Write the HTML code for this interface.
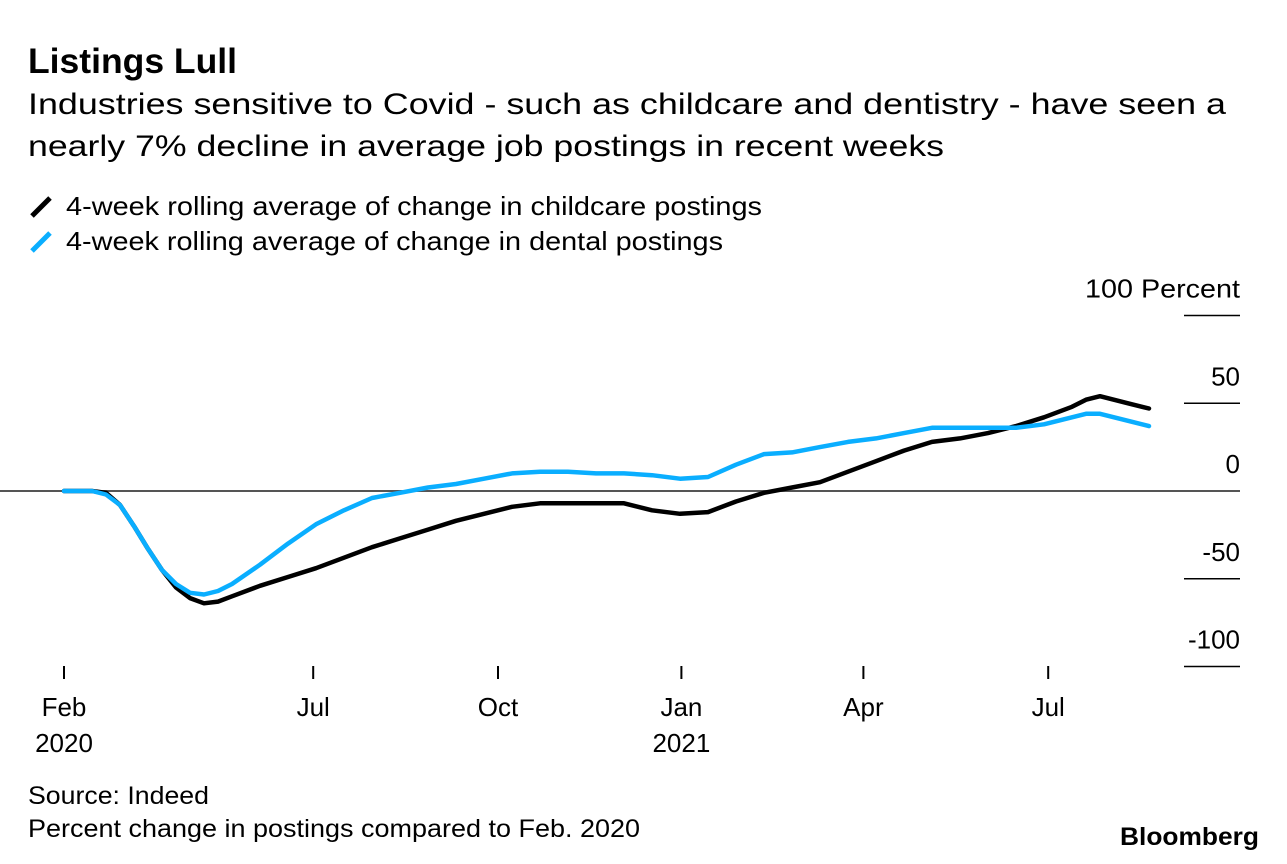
<!DOCTYPE html>
<html><head><meta charset="utf-8"><style>
html,body{margin:0;padding:0;background:#fff;}
svg{display:block;font-family:"Liberation Sans",Arial,sans-serif;}
</style></head><body>
<svg id="chart" width="1287" height="864" viewBox="0 0 1287 864">
<text x="28" y="73" font-size="35" font-weight="bold" textLength="209" lengthAdjust="spacingAndGlyphs">Listings Lull</text>
<text x="28" y="114" font-size="30" textLength="1198" lengthAdjust="spacingAndGlyphs">Industries sensitive to Covid - such as childcare and dentistry - have seen a</text>
<text x="28" y="156" font-size="30" textLength="916" lengthAdjust="spacingAndGlyphs">nearly 7% decline in average job postings in recent weeks</text>
<g>
<line x1="32" y1="216" x2="50" y2="198" stroke="#000" stroke-width="5"/>
<text x="66" y="215" font-size="26" textLength="696" lengthAdjust="spacingAndGlyphs">4-week rolling average of change in childcare postings</text>
</g>
<g>
<line x1="32" y1="251" x2="50" y2="233" stroke="#0aaeff" stroke-width="5"/>
<text x="66" y="250" font-size="26" textLength="657" lengthAdjust="spacingAndGlyphs">4-week rolling average of change in dental postings</text>
</g>
<g id="yaxis"></g>
<g id="xaxis"></g>
<g id="series"></g>
<text x="28" y="804" font-size="25" textLength="181" lengthAdjust="spacingAndGlyphs">Source: Indeed</text>
<text x="28" y="837" font-size="25" textLength="612" lengthAdjust="spacingAndGlyphs">Percent change in postings compared to Feb. 2020</text>
<text x="1259" y="845" font-size="25" font-weight="bold" text-anchor="end" textLength="139" lengthAdjust="spacingAndGlyphs">Bloomberg</text>
</svg>
<script>
const weeks = [0,2,3,4,5,6,7,8,9,10,11,12,14,16,18,20,22,24,26,28,30,32,34,36,38,40,42,44,46,48,50,52,54,56,58,60,62,64,66,68,70,72,73,74,76,77.5];
const childcare = [0,0,-1,-8,-20,-33,-45,-55,-61,-64,-63,-60,-54,-49,-44,-38,-32,-27,-22,-17,-13,-9,-7,-7,-7,-7,-11,-13,-12,-6,-1,2,5,11,17,23,28,30,33,37,42,48,52,54,50,47];
const dental = [0,0,-2,-8,-20,-33,-45,-53,-58,-59,-57,-53,-42,-30,-19,-11,-4,-1,2,4,7,10,11,11,10,10,9,7,8,15,21,22,25,28,30,33,36,36,36,36,38,42,44,44,40,37];
const yTicks = [100,50,0,-50,-100];
const yTickLabels = ["100 Percent","50","0","-50","-100"];
const xTickWeeks = [0,17.8,31,44.1,57.1,70.3];
const xTickLabels = ["Feb","Jul","Oct","Jan","Apr","Jul"];
const xTickYears = ["2020","","","2021","",""];

const NS="http://www.w3.org/2000/svg";
const xs = w => 64 + w*14;
const ys = v => 491 - v*1.755;
function mk(tag, attrs, parent){const e=document.createElementNS(NS,tag);for(const k in attrs)e.setAttribute(k,attrs[k]);parent.appendChild(e);return e;}
const ya=document.getElementById('yaxis'), xa=document.getElementById('xaxis'), sg=document.getElementById('series');
yTicks.forEach((v,i)=>{
  const l=mk('line',{x1:v===0?0:1184,x2:1240,y1:ys(v),y2:ys(v),stroke:v===0?'#555':'#000','stroke-width':v===0?2:1.5},ya);
  
  
  const t=mk('text',{x:1240,y:ys(v)-18,'font-size':26,'text-anchor':'end'},ya);
  t.textContent=yTickLabels[i];
  if(i===0){t.setAttribute('textLength','155');t.setAttribute('lengthAdjust','spacingAndGlyphs');}
  
  
});
xTickWeeks.forEach((w,i)=>{
  const l=mk('line',{x1:xs(w),x2:xs(w),y1:666,y2:679,stroke:'#000','stroke-width':2},xa);
  
  
  const t=mk('text',{x:xs(w),y:716,'font-size':26,'text-anchor':'middle'},xa);
  t.textContent=xTickLabels[i];
  
  
  if(xTickYears[i]){
    const y=mk('text',{x:xs(w),y:752,'font-size':26,'text-anchor':'middle'},xa);
    y.textContent=xTickYears[i];
    
    
  }
});
function line(vals,color,name){
  const d=vals.map((v,i)=>(i?'L':'M')+xs(weeks[i]).toFixed(1)+' '+ys(v).toFixed(1)).join(' ');
  const p=mk('path',{d:d,fill:'none',stroke:color,'stroke-width':4.5,'stroke-linejoin':'round','stroke-linecap':'round'},sg);
  
  
}
line(childcare,'#000','childcare-line');
line(dental,'#0aaeff','dental-line');
</script>
</body></html>
